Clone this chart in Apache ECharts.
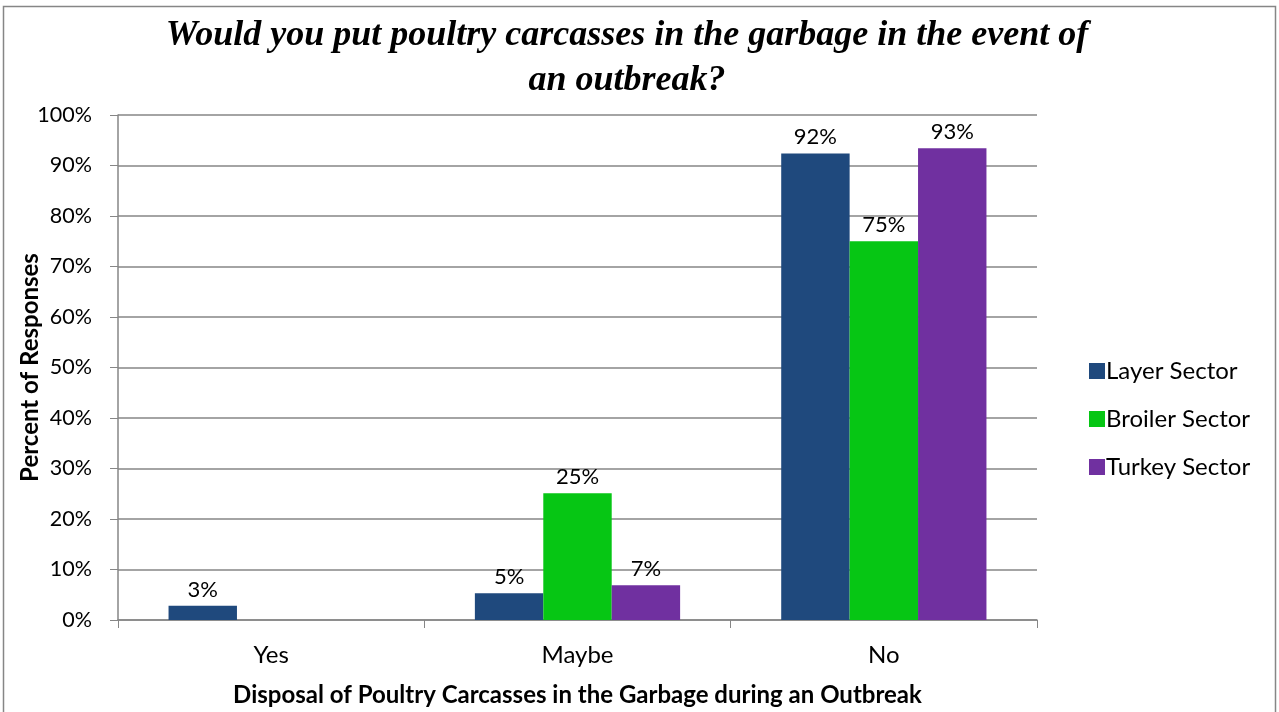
<!DOCTYPE html>
<html>
<head>
<meta charset="utf-8">
<script src="https://cdn.jsdelivr.net/npm/echarts@6/dist/echarts.min.js"></script>
<style>
html,body{margin:0;padding:0;background:#fff;}
#chart{width:1279px;height:712px;}
</style>
</head>
<body>
<div id="chart"></div>
<script>
// Responses to the garbage-disposal question, in percent
const categories = ['Yes', 'Maybe', 'No'];
const layerSector = [2.8, 5.3, 92.4];
const broilerSector = [0, 25.1, 75.0];
const turkeySector = [0, 6.9, 93.4];
const seriesNames = ['Layer Sector', 'Broiler Sector', 'Turkey Sector'];
const seriesColors = ['#1F497D', '#06C614', '#7030A0'];
const yTicks = [0, 10, 20, 30, 40, 50, 60, 70, 80, 90, 100];

const font = 'Lato, "Open Sans", sans-serif';
const chart = echarts.init(document.getElementById('chart'));

function barSeries(name, data, color) {
  return {
    name: name,
    type: 'bar',
    data: data,
    barGap: '0%',
    barCategoryGap: '33%',
    itemStyle: { color: color },
    label: {
      show: true,
      position: 'top',
      distance: 5,
      fontFamily: font,
      fontSize: 22,
      color: '#000',
      formatter: p => p.value > 0 ? Math.round(p.value) + '%' : ''
    }
  };
}

chart.setOption({
  animation: false,
  title: {
    text: 'Would you put poultry carcasses in the garbage in the event of\nan outbreak?',
    left: 622,
    top: 8,
    textAlign: 'center',
    textStyle: {
      fontFamily: '"Liberation Serif", "Times New Roman", serif',
      fontStyle: 'italic',
      fontWeight: 'bold',
      fontSize: 36,
      lineHeight: 45,
      color: '#000'
    }
  },
  legend: {
    orient: 'vertical',
    left: 1084,
    top: 354,
    itemWidth: 16,
    itemHeight: 16,
    itemGap: 24,
    icon: 'rect',
    data: seriesNames,
    textStyle: { fontFamily: font, fontSize: 24, color: '#000', padding: [0, 0, 0, -4] }
  },
  grid: { left: 118, right: 242, top: 115, bottom: 92, containLabel: false, outerBoundsMode: 'none' },
  xAxis: {
    type: 'category',
    data: categories,
    name: 'Disposal of Poultry Carcasses in the Garbage during an Outbreak',
    nameLocation: 'middle',
    nameGap: 63,
    nameMoveOverlap: false,
    nameTextStyle: { fontFamily: font, fontSize: 24, fontWeight: 'bold', color: '#000' },
    axisLine: { lineStyle: { color: '#868686', width: 1.5 } },
    axisTick: { show: true, length: 8, lineStyle: { color: '#868686' } },
    axisLabel: { fontFamily: font, fontSize: 24, color: '#000', margin: 23 }
  },
  yAxis: {
    type: 'value',
    min: 0,
    max: 100,
    interval: 10,
    name: 'Percent of Responses',
    nameLocation: 'middle',
    nameGap: 76,
    nameMoveOverlap: false,
    nameTextStyle: { fontFamily: font, fontSize: 24, fontWeight: 'bold', color: '#000' },
    axisLine: { show: true, lineStyle: { color: '#868686', width: 1.5 } },
    axisTick: { show: true, length: 8, lineStyle: { color: '#868686' } },
    axisLabel: {
      fontFamily: font, fontSize: 21.5, color: '#000', margin: 26,
      formatter: v => yTicks.includes(v) ? v + '%' : ''
    },
    splitLine: { lineStyle: { color: '#868686', width: 1.5 } }
  },
  graphic: [{
    type: 'rect',
    shape: { x: 3.5, y: 6.5, width: 1272, height: 720 },
    style: { fill: 'none', stroke: '#868686', lineWidth: 1.5 },
    silent: true
  }],
  series: [
    barSeries(seriesNames[0], layerSector, seriesColors[0]),
    barSeries(seriesNames[1], broilerSector, seriesColors[1]),
    barSeries(seriesNames[2], turkeySector, seriesColors[2])
  ]
});
</script>
</body>
</html>
